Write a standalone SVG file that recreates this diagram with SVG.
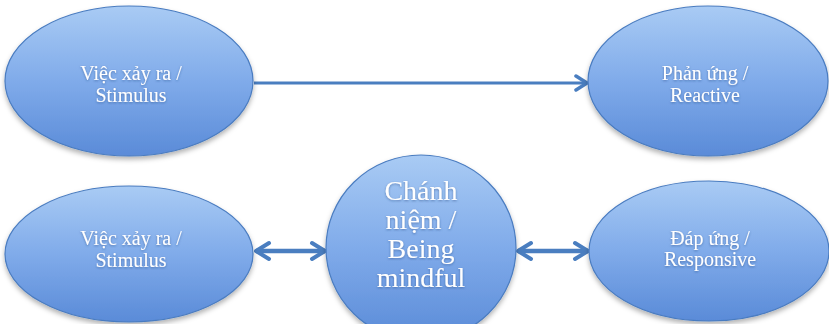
<svg xmlns="http://www.w3.org/2000/svg" width="829" height="324" viewBox="0 0 829 324">
<defs>
<linearGradient id="g" x1="0" y1="0" x2="0" y2="1">
<stop offset="0" stop-color="#a9cbf4"/>
<stop offset="0.5" stop-color="#80abea"/>
<stop offset="1" stop-color="#5a8bd8"/>
</linearGradient>
<filter id="sh" x="-10%" y="-10%" width="120%" height="130%">
<feDropShadow dx="0" dy="3" stdDeviation="2.5" flood-color="#000" flood-opacity="0.3"/>
</filter>
<filter id="ts" x="-10%" y="-10%" width="120%" height="130%">
<feDropShadow dx="0" dy="1" stdDeviation="0.8" flood-color="#1d3f7a" flood-opacity="0.5"/>
</filter>
<marker id="ah" markerUnits="userSpaceOnUse" viewBox="0 0 16 20" markerWidth="16" markerHeight="20" refX="14" refY="10" orient="auto-start-reverse">
<path d="M3,3 L14,10 L3,17" fill="none" stroke="#4a7ec0" stroke-width="3.5" stroke-linecap="round" stroke-linejoin="round"/>
</marker>
<marker id="ah2" markerUnits="userSpaceOnUse" viewBox="0 0 18 22" markerWidth="18" markerHeight="22" refX="16" refY="11" orient="auto-start-reverse">
<path d="M3,3 L16,11 L3,19" fill="none" stroke="#4a7ec0" stroke-width="4" stroke-linecap="round" stroke-linejoin="round"/>
</marker>
</defs>
<style>
.node{fill:url(#g);stroke:#4a7cc0;stroke-width:1.2;filter:url(#sh)}
.t{font-family:"Liberation Serif","Times New Roman",serif;fill:#fff;text-anchor:middle;filter:url(#ts)}
.s{font-size:20px}
.b{font-size:28px}
.c{stroke:#4a7ec0;fill:none}
</style>
<rect width="829" height="324" fill="#fff"/>
<g id="connectors">
<line class="c" x1="254" y1="83" x2="587" y2="83" stroke-width="3" marker-end="url(#ah)"/>
<line class="c" x1="256" y1="251" x2="325" y2="251" stroke-width="4.5" marker-start="url(#ah2)" marker-end="url(#ah2)"/>
<line class="c" x1="518" y1="251" x2="588" y2="251" stroke-width="4.5" marker-start="url(#ah2)" marker-end="url(#ah2)"/>
</g>
<g id="n1">
<ellipse class="node" cx="129" cy="81" rx="124" ry="75"/>
<text class="t s" x="131" y="80">Việc xảy ra /</text>
<text class="t s" x="131" y="102">Stimulus</text>
</g>
<g id="n2">
<ellipse class="node" cx="708" cy="81" rx="120" ry="75"/>
<text class="t s" x="705" y="80">Phản ứng /</text>
<text class="t s" x="705" y="102">Reactive</text>
</g>
<g id="n3">
<ellipse class="node" cx="129" cy="254" rx="124" ry="68"/>
<text class="t s" x="131" y="245">Việc xảy ra /</text>
<text class="t s" x="131" y="267">Stimulus</text>
</g>
<g id="n4">
<ellipse class="node" cx="421" cy="248" rx="95" ry="93"/>
<text class="t b" x="421" y="200">Chánh</text>
<text class="t b" x="421" y="229">niệm /</text>
<text class="t b" x="421" y="258">Being</text>
<text class="t b" x="421" y="287">mindful</text>
</g>
<g id="n5">
<ellipse class="node" cx="709" cy="251" rx="120" ry="70"/>
<text class="t s" x="710" y="245">Đáp ứng /</text>
<text class="t s" x="710" y="266">Responsive</text>
</g>
</svg>
